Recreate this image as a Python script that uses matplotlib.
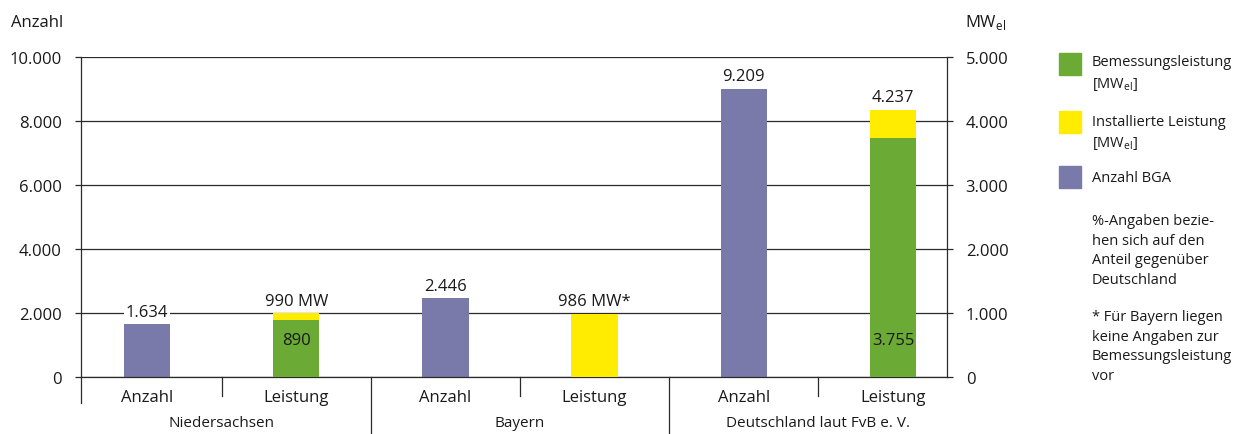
import numpy as np
import matplotlib.pyplot as plt
from matplotlib.patches import Rectangle
from matplotlib.ticker import FuncFormatter

plt.rcParams['font.family'] = ['Open Sans', 'DejaVu Sans']
plt.rcParams['font.size'] = 12
plt.rcParams['mathtext.fontset'] = 'custom'
plt.rcParams['mathtext.rm'] = 'Open Sans'
plt.rcParams['text.color'] = '#1a1a1a'

# data
regions = ['Niedersachsen', 'Bayern', 'Deutschland laut FvB e. V.']
bar_names = ['Anzahl', 'Leistung']
anzahl = [1634, 2446, 9000]           # Anzahl BGA (left axis)
anzahl_labels = ['1.634', '2.446', '9.209']
bemessung = [890, 0, 3730]            # MWel (right axis)
installiert = [990, 986, 4170]        # MWel (right axis)
top_labels = ['990 MW', '986 MW*', '4.237']
inner_labels = ['890', '', '3.755']

left_ticks = [0, 2000, 4000, 6000, 8000, 10000]
right_ticks = [0, 1000, 2000, 3000, 4000, 5000]

legend_labels = ['Bemessungsleistung\n[MW$_\\mathregular{el}$]',
                 'Installierte Leistung\n[MW$_\\mathregular{el}$]',
                 'Anzahl BGA']
notes = ['%-Angaben bezie-\nhen sich auf den\nAnteil gegenüber\nDeutschland',
         '* Für Bayern liegen\nkeine Angaben zur\nBemessungsleistung\nvor']

c_anz = '#7a7aaa'
c_bem = '#6aaa35'
c_inst = '#ffec00'
c_line = '#2a2a2a'

W, H = 1237, 435
fig = plt.figure(figsize=(W / 100, H / 100), dpi=100)
ax = fig.add_axes([80.5 / W, 1 - 377.7 / H, (947 - 80.5) / W, 320 / H])
ax2 = ax.twinx()

x_anz = np.arange(len(regions)) * 2
x_lei = x_anz + 1
bw = 0.31

ax.bar(x_anz, anzahl, bw, color=c_anz, zorder=2)
ax2.bar(x_lei, bemessung, bw, color=c_bem)
ax2.bar(x_lei, np.array(installiert) - np.array(bemessung), bw,
        bottom=bemessung, color=c_inst)

ax.set_xlim(-0.446, 5.362)
ax.set_ylim(0, 10000)
ax2.set_ylim(0, 5000)
ax.set_yticks(left_ticks)
ax2.set_yticks(right_ticks)
fmt = FuncFormatter(lambda v, p: f'{v:,.0f}'.replace(',', '.'))
ax.yaxis.set_major_formatter(fmt)
ax2.yaxis.set_major_formatter(fmt)

ax.grid(axis='y', color=c_line, lw=0.9)
ax.set_axisbelow(True)
ax.set_xticks([])
ax2.set_xticks([])

for a in (ax, ax2):
    a.tick_params(axis='y', direction='out', length=4.5, width=0.9,
                  color=c_line, pad=9, labelsize=12, labelcolor='#1a1a1a')
    for s in a.spines.values():
        s.set_color(c_line)
        s.set_linewidth(0.9)
ax.spines['top'].set_visible(False)
ax.spines['right'].set_visible(False)
for s in ['top', 'left', 'bottom']:
    ax2.spines[s].set_visible(False)

# value labels
for x, v, lab in zip(x_anz, anzahl, anzahl_labels):
    ax.annotate(lab, (x, v), xytext=(0, 6), textcoords='offset points',
                ha='center', va='baseline', fontsize=12, zorder=3,
                bbox=dict(facecolor='white', edgecolor='none', pad=1.5))
for x, v, lab in zip(x_lei, installiert, top_labels):
    ax2.annotate(lab, (x, v), xytext=(0, 6), textcoords='offset points',
                 ha='center', va='baseline', fontsize=12)
for x, lab in zip(x_lei, inner_labels):
    ax2.text(x, 0.102, lab, transform=ax2.get_xaxis_transform(),
             ha='center', va='baseline', fontsize=12)

# category axis
xt = ax.get_xaxis_transform()
for x in x_anz:
    ax.plot([x + 0.5, x + 0.5], [0, -0.06], transform=xt, clip_on=False,
            color=c_line, lw=0.9)
for x in x_anz[1:]:
    ax.plot([x - 0.5, x - 0.5], [0, -0.179], transform=xt, clip_on=False,
            color=c_line, lw=0.9)
ax.plot([0, 0], [0, -0.082], transform=ax.transAxes, clip_on=False,
        color=c_line, lw=0.9)
for xa, xl in zip(x_anz, x_lei):
    ax.text(xa, -0.0634, bar_names[0], transform=xt, ha='center', va='center', fontsize=12)
    ax.text(xl, -0.0634, bar_names[1], transform=xt, ha='center', va='center', fontsize=12)
for x, reg in zip(x_anz + 0.5, regions):
    ax.text(x, -0.1416, reg, transform=xt, ha='center', va='center', fontsize=11)

# axis titles
fig.text(11 / W, 1 - 23 / H, 'Anzahl', ha='left', va='center', fontsize=12)
fig.text(965 / W, 1 - 23 / H, 'MW$_\\mathregular{el}$', ha='left', va='center', fontsize=12)

# legend
leg_cols = [c_bem, c_inst, c_anz]
leg_y = [65, 123, 178]
leg_text_y = [74, 133.5, 178]
for col, yc, ty, lab in zip(leg_cols, leg_y, leg_text_y, legend_labels):
    fig.add_artist(Rectangle((1059 / W, 1 - (yc + 11) / H), 22 / W, 22 / H,
                             transform=fig.transFigure, color=col))
    fig.text(1092 / W, 1 - ty / H, lab, ha='left', va='center',
             fontsize=10.5, linespacing=1.45)
for ty, note in zip([251, 347], notes):
    fig.text(1092 / W, 1 - ty / H, note, ha='left', va='center',
             fontsize=10.5, linespacing=1.45)

fig.savefig('out.png', dpi=100)
